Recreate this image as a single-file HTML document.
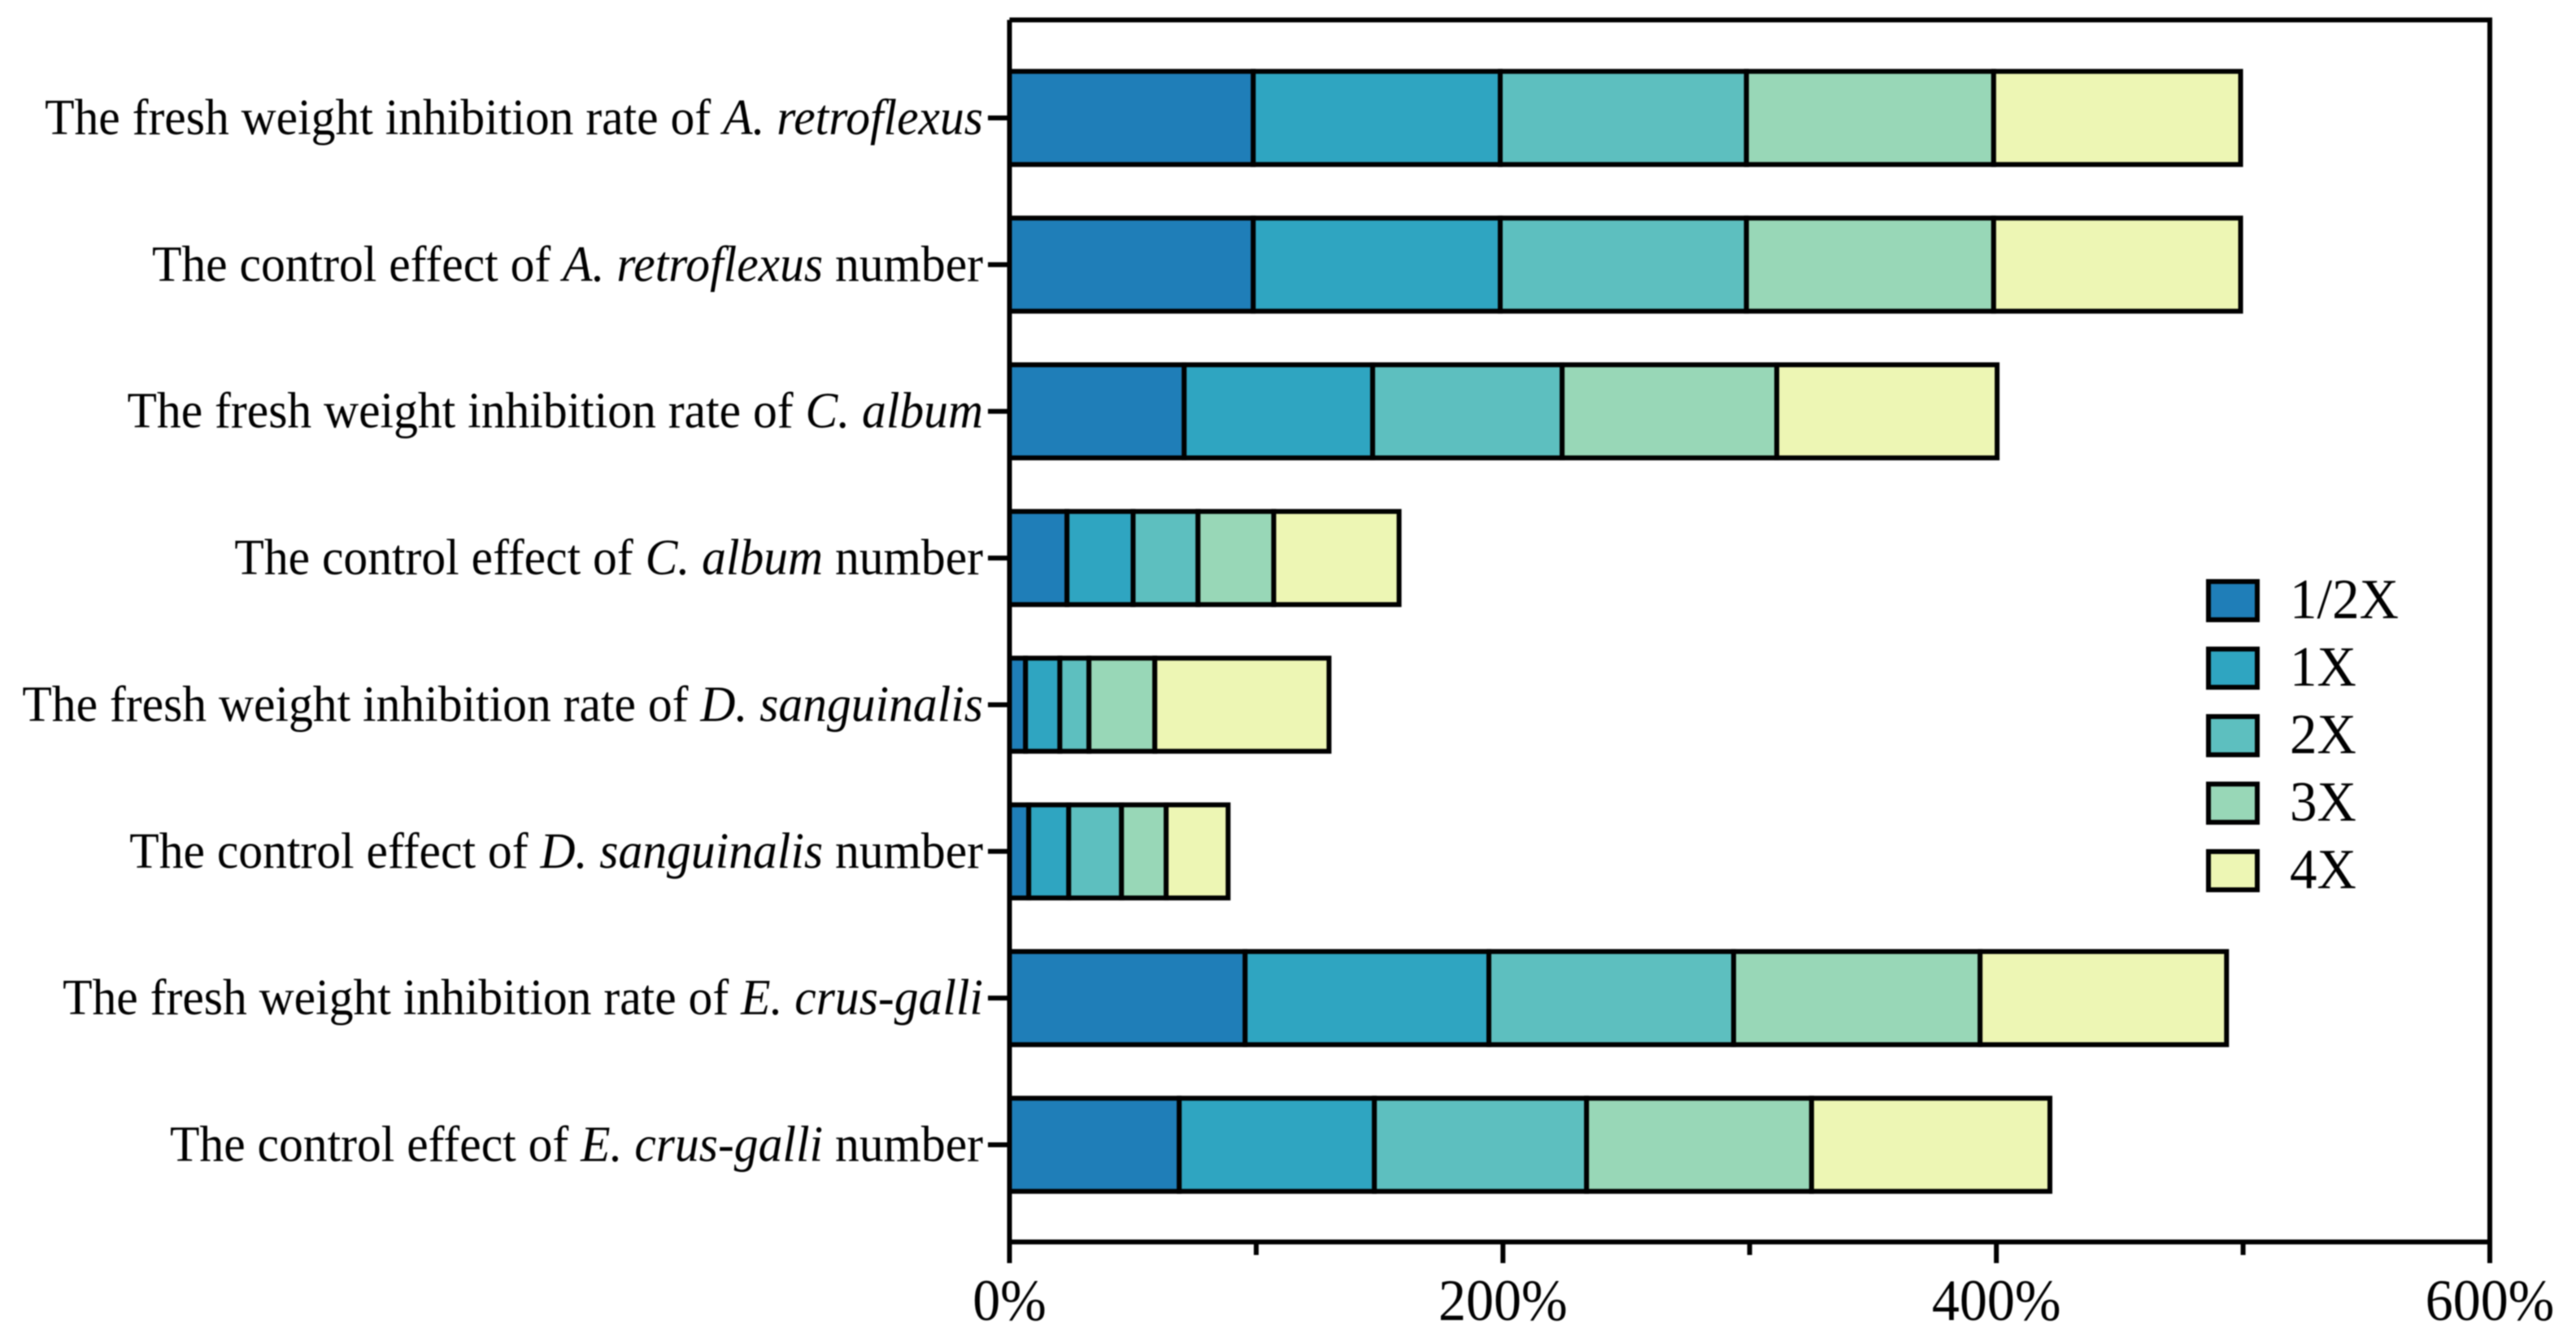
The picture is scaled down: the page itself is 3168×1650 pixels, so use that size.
<!DOCTYPE html>
<html lang="en">
<head>
<meta charset="utf-8">
<title>Stacked bar chart of control effects and fresh weight inhibition rates</title>
<style>
html,body{margin:0;padding:0;background:#fff;}
svg{display:block;filter:blur(0.8px);}
text{font-family:"Liberation Serif",serif;fill:#000;}
</style>
</head>
<body>
<svg id="chart" xmlns="http://www.w3.org/2000/svg" width="3168" height="1650" viewBox="0 0 3168 1650"></svg>
<script>
const labelPrefix = ["The fresh weight inhibition rate of ", "The control effect of ", "The fresh weight inhibition rate of ", "The control effect of ", "The fresh weight inhibition rate of ", "The control effect of ", "The fresh weight inhibition rate of ", "The control effect of "];
const labelSpecies = ["A. retroflexus", "A. retroflexus", "C. album", "C. album", "D. sanguinalis", "D. sanguinalis", "E. crus-galli", "E. crus-galli"];
const labelSuffix = ["", " number", "", " number", "", " number", "", " number"];
const seriesNames = ["1/2X", "1X", "2X", "3X", "4X"];
const seriesColors = ["#1f7eb8", "#2fa5c1", "#5dbfbf", "#98d7b7", "#edf6b4"];
const halfX = [98.8, 98.8, 70.8, 23.3, 6.5, 7.8, 95.5, 68.8];
const oneX = [100.1, 100.1, 76.4, 26.8, 13.9, 16.2, 98.8, 79.1];
const twoX = [99.8, 99.8, 76.8, 26.3, 11.8, 21.4, 99.2, 86.0];
const threeX = [100.2, 100.2, 87.0, 30.7, 26.7, 18.1, 99.9, 91.2];
const fourX = [100.1, 100.1, 89.3, 50.8, 70.6, 25.1, 99.9, 96.6];
const majorTicks = [0, 200, 400, 600];
const minorTicks = [100, 300, 500];

const NS = "http://www.w3.org/2000/svg";
const svg = document.getElementById("chart");
const allSeries = [halfX, oneX, twoX, threeX, fourX];
const X0 = 1241.5, X1 = 3062, AXIS_MAX = 600;
const FIRST_CENTER = 145, BAND = 180.36, BAR_H = 114.5;
const AXIS_Y = 1527, TOP_Y = 24.5, STROKE = 6;
const xScale = v => X0 + (v / AXIS_MAX) * (X1 - X0);
const yScale = i => FIRST_CENTER + i * BAND;

function make(tag, attrs, parent) {
  const el = document.createElementNS(NS, tag);
  for (const k in attrs) el.setAttribute(k, attrs[k]);
  (parent || svg).appendChild(el);
  return el;
}

// bars
labelSpecies.forEach((species, i) => {
  let cum = 0;
  allSeries.forEach((series, s) => {
    const start = cum;
    cum += series[i];
    const seg = make("rect", {
      x: xScale(start), y: yScale(i) - BAR_H / 2,
      width: xScale(cum) - xScale(start), height: BAR_H,
      fill: seriesColors[s], stroke: "#000", "stroke-width": STROKE
    });
    
    
  });
});

// frame
const frame = make("path", {
  d: `M${X0} ${TOP_Y}H${X1}V${AXIS_Y + 26}M${X1} ${AXIS_Y}H${X0}M${X0} ${AXIS_Y + 26}V${TOP_Y}`,
  fill: "none", stroke: "#000", "stroke-width": STROKE
});



// x axis
majorTicks.forEach(v => {
  const tick = make("line", {x1: xScale(v), x2: xScale(v), y1: AXIS_Y, y2: AXIS_Y + 26, stroke: "#000", "stroke-width": STROKE});
  
  
  const t = make("text", {transform: `translate(${xScale(v)} 1623) scale(1 1.06)`, "text-anchor": "middle", "font-size": 68});
  t.textContent = v + "%";
  
  
});
minorTicks.forEach(v => {
  const tick = make("line", {x1: xScale(v), x2: xScale(v), y1: AXIS_Y, y2: AXIS_Y + 16, stroke: "#000", "stroke-width": STROKE});
  
  
});

// y axis
labelSpecies.forEach((species, i) => {
  const tick = make("line", {x1: 1215, x2: X0, y1: yScale(i), y2: yScale(i), stroke: "#000", "stroke-width": STROKE});
  
  
  const t = make("text", {transform: `translate(1209 ${yScale(i) + 20}) scale(1 1.05)`, "text-anchor": "end", "font-size": 59.6});
  t.style.whiteSpace = "pre";
  
  
  const a = make("tspan", {}, t);
  a.textContent = labelPrefix[i];
  const b = make("tspan", {"font-style": "italic"}, t);
  b.textContent = species;
  if (labelSuffix[i]) {
    const c = make("tspan", {}, t);
    c.textContent = labelSuffix[i];
  }
});

// legend
seriesNames.forEach((name, s) => {
  const swatch = make("rect", {x: 2716, y: 715 + s * 83, width: 60, height: 47, fill: seriesColors[s], stroke: "#000", "stroke-width": STROKE});
  
  
  const t = make("text", {transform: `translate(2816 ${760 + s * 83}) scale(1 1.05)`, "font-size": 67});
  t.textContent = name;
  
  
});
</script>
</body>
</html>
